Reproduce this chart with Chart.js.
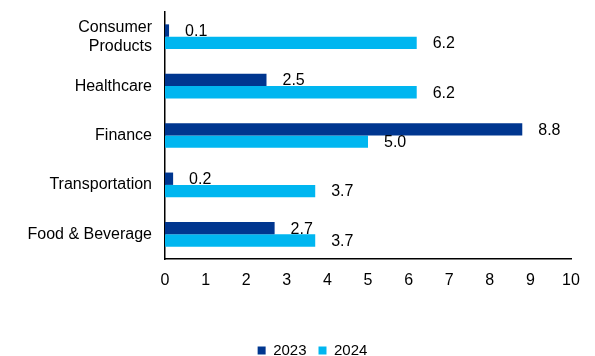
<!DOCTYPE html>
<html>
<head>
<meta charset="utf-8">
<script src="https://cdn.jsdelivr.net/npm/chart.js@4"></script>
<style>
  html, body { margin: 0; padding: 0; background: #fff; }
  #wrap { width: 595px; height: 356px; position: relative; }
</style>
</head>
<body>
<div id="wrap"><canvas id="chart"></canvas></div>
<script>
const categories = [['Consumer', 'Products'], 'Healthcare', 'Finance', 'Transportation', 'Food & Beverage'];
const values2023 = [0.1, 2.5, 8.8, 0.2, 2.7];
const values2024 = [6.2, 6.2, 5.0, 3.7, 3.7];
const xTicks = { min: 0, max: 10, step: 1 };

Chart.defaults.font.family = '"Liberation Sans", Arial, sans-serif';
Chart.defaults.font.size = 16;
Chart.defaults.color = '#000';

// value labels to the right of each bar
const barLabels = {
    id: 'barLabels',
    afterDatasetsDraw(chart) {
        const ctx = chart.ctx;
        ctx.save();
        ctx.font = '16px "Liberation Sans", Arial, sans-serif';
        ctx.fillStyle = '#000';
        ctx.textAlign = 'left';
        ctx.textBaseline = 'middle';
        chart.data.datasets.forEach((ds, i) => {
            chart.getDatasetMeta(i).data.forEach((bar, j) => {
                ctx.fillText(ds.data[j].toFixed(1), bar.x + 16, bar.y + 1);
            });
        });
        ctx.restore();
    }
};

// nudge legend right and down like the original
const legendShift = {
    id: 'legendShift',
    afterLayout(chart) {
        chart.legend.left += 27;
        chart.legend.right += 27;
        chart.legend.top += 12;
        chart.legend.bottom += 12;
    }
};

new Chart(document.getElementById('chart'), {
    type: 'bar',
    data: {
        labels: categories,
        datasets: [
            { label: '2023', data: values2023, backgroundColor: '#00368F' },
            { label: '2024', data: values2024, backgroundColor: '#00B6F0' }
        ]
    },
    options: {
        indexAxis: 'y',
        responsive: true,
        maintainAspectRatio: false,
        animation: false,
        categoryPercentage: 0.5,
        barPercentage: 1,
        layout: {
            padding: { top: 12, right: 24, left: 0, bottom: 0 }
        },
        plugins: {
            legend: {
                position: 'bottom',
                labels: { boxWidth: 8, boxHeight: 8, padding: 12, font: { size: 15 } }
            },
            tooltip: { enabled: false }
        },
        scales: {
            x: {
                min: xTicks.min,
                max: xTicks.max,
                ticks: { stepSize: xTicks.step, padding: 12 },
                grid: { display: false, drawTicks: false },
                border: { display: true, color: '#000', width: 1.5 },
                afterFit(scale) { scale.height = 60; }
            },
            y: {
                ticks: { padding: 13 },
                grid: { display: false, drawTicks: false },
                border: { display: true, color: '#000', width: 1.5 },
                afterFit(scale) {
                    scale.width = 165;
                    scale.paddingTop = 0;
                    scale.paddingBottom = 0;
                }
            }
        }
    },
    plugins: [barLabels, legendShift]
});
</script>
</body>
</html>
